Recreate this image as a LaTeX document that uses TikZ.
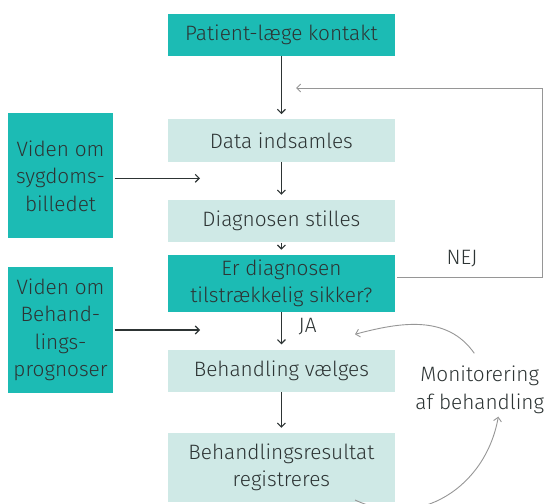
\documentclass[tikz,border=0pt]{standalone}
\usepackage{fontspec}
\setmainfont{Fira Sans}[UprightFont=* Light]
\usetikzlibrary{arrows,arrows.meta,positioning}

\definecolor{tealdark}{RGB}{28,187,180}
\definecolor{teallight}{RGB}{207,233,230}
\definecolor{txt}{RGB}{45,52,52}
\definecolor{loopgray}{RGB}{150,150,150}

\begin{document}
\begin{tikzpicture}[
    x=1pt, y=1pt,
    >={Straight Barb[length=4pt,width=8pt]},
    font=\fontsize{20.8}{27.5}\selectfont,
    text=txt,
    box/.style={rectangle, inner sep=0pt, minimum width=227pt, minimum height=42.4pt, align=center},
    darkbox/.style={box, fill=tealdark},
    lightbox/.style={box, fill=teallight},
    sidebox/.style={darkbox, minimum width=105pt, minimum height=125pt},
    flow/.style={->, line width=1.1pt, draw=txt, shorten >=5pt},
    grayline/.style={->, line width=0.9pt, draw=loopgray},
]
\useasboundingbox (0,0) rectangle (545,503);

% Main chain
\node[darkbox] (kontakt) at (281.4,468.2) {Patient-læge kontakt};
\node[lightbox, below=62.9pt of kontakt] (data) {Data indsamles};
\node[lightbox, below=37.9pt of data] (diag) {Diagnosen stilles};
\node[darkbox, below=12.1pt of diag, minimum height=57.1pt] (sikker) {Er diagnosen\\tilstrækkelig sikker?};
\node[lightbox, below=37.2pt of sikker] (valg) {Behandling vælges};
\node[lightbox, below=40.6pt of valg, minimum height=69pt] (result) {Behandlingsresultat\\registreres};

% Knowledge boxes
\node[sidebox] (sygdom) at (60.5,327) {Viden om\\sygdoms-\\billedet};
\node[sidebox] (prognose) at (60.5,173) {Viden om\\Behand-\\lings-\\prognoser};

% Free ends
\coordinate (sygdomin) at (200,324.7);
\coordinate (prognosein) at (200,173);
\coordinate (nejend) at (296,415);
\coordinate (monstart) at (474.3,149.7);
\coordinate (monend) at (355,168.7);
\coordinate (resstart) at (355,3);
\coordinate (resend) at (498.3,86.3);

% Arrows
\draw[flow] (kontakt) -- (data);
\draw[flow] (data) -- (diag);
\draw[flow] (diag) -- (sikker);
\draw[flow] (sikker) -- (valg);
\draw[flow] (valg) -- (result);
\draw[flow, shorten >=0pt, shorten <=1.5pt] (sygdom.east |- sygdomin) -- (sygdomin);
\draw[flow, shorten >=0pt, shorten <=1.5pt] (prognose.east |- prognosein) -- (prognosein);

% Labels
\node (nej) at (462,244) {NEJ};
\node (ja) at (307.6,176) {JA};
\node[align=center] (monitor) at (479.7,113) {Monitorering\\af behandling};

% Feedback loops
\draw[grayline, shorten <=2pt] ([yshift=6pt]sikker.east) -- ++(147,0) |- (nejend);
\draw[grayline] (monstart) to[out=125,in=15] (monend);
\draw[grayline] (resstart) to[out=-25,in=-100,looseness=1.1] (resend);

\end{tikzpicture}
\end{document}
